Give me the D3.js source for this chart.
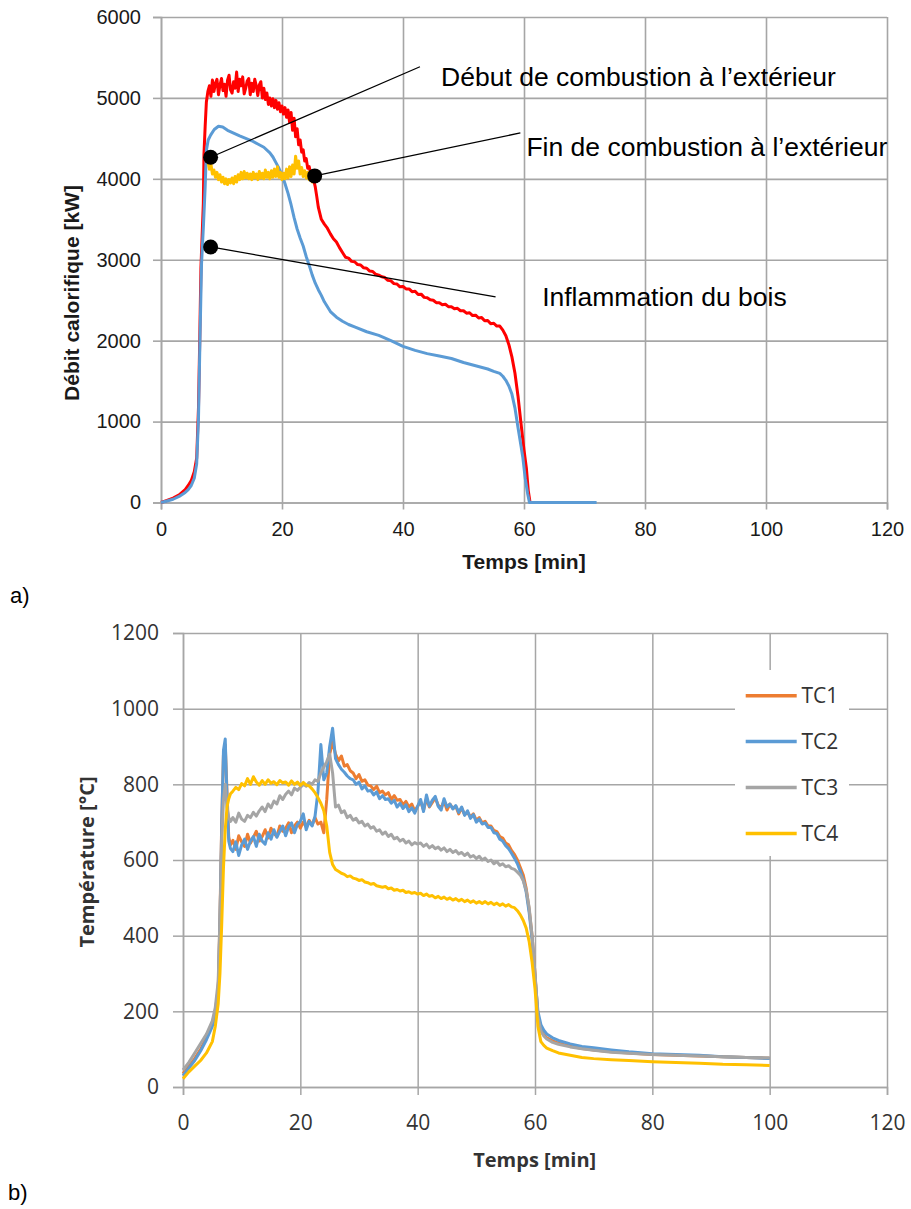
<!DOCTYPE html>
<html>
<head>
<meta charset="utf-8">
<script src="https://cdn.jsdelivr.net/npm/d3@7"></script>
<style>
  body { margin: 0; background: #fff; }
  svg { display: block; }
</style>
</head>
<body>
<svg id="fig" width="911" height="1209"></svg>
<script>
// ---------- Panel a: heat release rate (kW) vs time (min) ----------
const hrrTicksX = [0, 20, 40, 60, 80, 100, 120];
const hrrTicksY = [0, 1000, 2000, 3000, 4000, 5000, 6000];

// total heat release rate (red)
const hrrTotal = [[0,0],[1,25],[2,55],[3,95],[4,160],[4.5,210],[5,270],[5.5,380],[5.9,550],[6.2,1180],[6.4,2000],[6.6,2900],[6.8,3300],[7.0,3700],[7.1,4300],[7.3,4650],[7.5,4950],[7.75,5080],
  [8,5150],[8.25,5020],[8.5,5220],[8.75,5080],[9,5180],[9.25,5230],[9.5,5040],[9.75,5160],[10,5240],[10.25,5090],[10.5,5170],[10.75,5020],[11,5220],[11.25,5280],[11.5,5100],[11.75,5060],[12,5200],[12.25,5120],[12.5,5320],[12.75,5080],[13,5230],[13.25,5150],[13.5,5260],[13.75,5050],[14,5120],[14.25,5210],[14.5,5240],[14.75,5040],[15,5180],[15.25,5080],[15.5,5230],[15.75,5150],[16,5030],[16.25,5160],[16.5,5200],[16.75,5000],[17,5120],
  [17.25,4980],[17.5,5060],[17.75,4920],[18,5000],[18.25,4900],[18.5,4990],[18.75,4880],[19,4970],[19.25,4860],[19.5,4940],[19.75,4830],[20,4900],[20.25,4800],[20.5,4880],[20.75,4760],[21,4850],[21.25,4700],[21.5,4820],[21.75,4600],[22,4750],[22.25,4520],[22.5,4620],[22.75,4420],[23,4480],[23.25,4330],[23.5,4360],[23.75,4220],[24,4250],[24.25,4130],[24.5,4150],[24.75,4060],[25,4050],[25.25,3980],[25.5,3900],[25.75,3780],
  [26,3650],[26.5,3500],[27,3440],[27.5,3390],[28,3320],[28.5,3260],[29,3220],[29.5,3150],[30,3090],[30.5,3030],[31,3020],[31.5,2980],[32,2975],[32.5,2940],[33,2935],[33.5,2900],[34,2895],[34.5,2860],[35,2855],[35.5,2820],[36,2810],[36.5,2790],[37,2780],[37.5,2745],[38,2740],[38.5,2705],[39,2700],[39.5,2665],[40,2670],[40.5,2640],[41,2640],[41.5,2605],[42,2610],[42.5,2570],[43,2575],[43.5,2535],[44,2530],[44.5,2505],[45,2500],[45.5,2470],[46,2470],[46.5,2445],[47,2450],[47.5,2420],[48,2420],[48.5,2395],[49,2400],[49.5,2370],[50,2370],[50.5,2340],[51,2345],[51.5,2310],[52,2315],[52.5,2280],[53,2285],[53.5,2245],[54,2250],[54.5,2210],[55,2215],[55.5,2180],[56,2180],
  [56.5,2130],[57,2060],[57.5,1950],[58,1800],[58.5,1600],[59,1320],[59.5,980],[60,650],[60.4,420],[60.7,150],[61,0]];

// heat release rate inside the compartment (blue)
const hrrInside = [[0,0],[1,18],[2,40],[3,75],[4,125],[4.5,160],[5,210],[5.5,300],[5.9,480],[6.2,1050],[6.4,1850],[6.7,2950],[7.0,3400],[7.3,3900],[7.5,4350],[7.8,4480],[8.2,4540],[8.8,4610],[9.5,4650],[10.2,4640],[11,4600],[12,4565],[13,4530],[14,4500],[15,4470],[16,4430],[17,4390],[18,4320],[18.5,4270],[19,4200],[19.5,4130],[20,4050],[20.5,3940],[21,3820],[21.5,3680],[22,3520],[22.5,3380],[23,3270],[23.5,3170],[24,3040],[24.5,2930],[25,2810],[25.5,2710],[26,2630],[26.5,2560],[27,2480],[28,2360],[29,2290],[30,2240],[31,2200],[32,2170],[34,2110],[36,2065],[38,2000],[40,1930],[42,1880],[44,1840],[46,1810],[48,1780],[50,1730],[52,1690],[54,1650],[55,1620],[56,1595],[56.5,1560],[57,1510],[57.5,1440],[58,1340],[58.5,1170],[59,930],[59.5,700],[59.8,560],[60.2,300],[60.6,110],[60.9,0],[66,0],[72,0]];

// plateau during external combustion (yellow)
const hrrPlateau = [[7.8,4200],[8,4120],[8.25,4180],[8.5,4060],[8.75,4110],[9,4020],[9.25,4080],[9.5,3990],[9.75,4050],[10,3960],[10.25,4020],[10.5,3940],[10.75,4000],[11,3930],[11.25,3990],[11.5,3950],[11.75,4010],[12,3940],[12.25,4030],[12.5,3960],[12.75,4050],[13,3990],[13.25,4080],[13.5,4000],[13.75,4090],[14,4010],[14.25,4070],[14.5,4000],[14.75,4060],[15,3990],[15.25,4080],[15.5,4010],[15.75,4060],[16,3990],[16.25,4090],[16.5,4010],[16.75,4070],[17,4000],[17.25,4110],[17.5,4020],[17.75,4080],[18,4000],[18.25,4100],[18.5,4020],[18.75,4120],[19,4030],[19.25,4150],[19.5,4020],[19.75,4080],[20,3990],[20.25,4070],[20.5,4000],[20.75,4120],[21,4010],[21.25,4150],[21.5,4030],[21.75,4170],[22,4060],[22.25,4280],[22.5,4130],[22.75,4220],[23,4060],[23.25,4140],[23.5,4030],[23.75,4100],[24,4010],[24.25,4080],[24.5,3990],[24.75,4030],[25,3960],[25.2,4000]];

// annotations: point on curve, end of leader line, label anchor (left, middle)
const hrrNotes = [
  { text: "Début de combustion à l’extérieur", point: [8.2, 4267], lineEnd: [42.8, 5385], label: [46.3, 5260] },
  { text: "Fin de combustion à l’extérieur",   point: [25.4, 4036], lineEnd: [59.4, 4567], label: [60.4, 4394] },
  { text: "Inflammation du bois",              point: [8.2, 3158], lineEnd: [55.3, 2540], label: [63.0, 2540] }
];

// ---------- Panel b: gas temperature (°C) vs time (min) ----------
const tempTicksX = [0, 20, 40, 60, 80, 100, 120];
const tempTicksY = [0, 200, 400, 600, 800, 1000, 1200];
const tcNames = ["TC1", "TC2", "TC3", "TC4"];
const tcMinutes = [0,1,2,3,4,5,5.5,6,6.3,6.6,6.9,7.2,7.5,7.8,8.1,
  8.5,9,9.5,10,10.5,11,11.5,12,12.5,13,13.5,14,14.5,15,15.5,16,16.5,17,17.5,18,18.5,19,19.5,20,
  20.5,21,21.5,22,22.5,23,23.5,24,24.5,25,25.5,26,
  26.5,27,27.5,28,28.5,29,29.5,30,30.5,31,31.5,32,32.5,33,33.5,34,34.5,35,35.5,36,36.5,37,37.5,38,38.5,39,39.5,40,
  40.5,41,41.5,42,42.5,43,43.5,44,44.5,45,45.5,46,46.5,47,47.5,48,48.5,49,49.5,50,
  50.5,51,51.5,52,52.5,53,53.5,54,54.5,55,55.5,56,56.5,57,57.5,58,58.5,59,59.5,60,
  60.5,61,61.5,62,63,64,66,68,70,73,76,80,84,88,92,96,100];
const tc1 = [35,55,75,100,130,170,200,260,450,700,880,905,780,660,640,
  652,628,664,648,636,668,645,660,676,650,662,680,658,684,670,662,690,676,684,698,672,690,700,684,
  700,688,705,692,712,695,700,672,760,880,912,880,
  862,875,848,852,836,830,815,826,808,812,798,796,786,795,778,782,772,778,760,770,758,760,746,755,740,748,730,742,
  755,732,762,740,752,764,745,738,756,732,748,736,742,722,738,720,726,714,722,705,
  712,698,702,690,690,678,675,662,658,645,640,625,615,600,580,560,525,470,400,300,
  190,150,138,130,122,116,108,102,98,93,90,86,84,82,80,78,76];
const tc2 = [30,50,70,95,125,160,190,250,430,690,890,920,760,650,630,
  622,648,612,640,655,628,650,662,636,668,650,642,672,655,680,660,676,690,664,688,698,672,694,702,
  722,680,702,690,715,780,905,812,830,900,948,868,
  852,840,832,822,815,812,800,806,788,796,782,784,772,780,762,770,760,762,750,758,740,750,736,746,728,738,724,742,
  760,728,772,742,758,768,742,732,762,740,748,735,744,726,740,718,730,710,720,700,
  708,695,698,686,686,672,670,655,650,638,630,618,605,590,570,548,515,462,390,290,
  200,165,150,140,130,123,114,107,104,98,93,88,86,84,80,78,75];
const tc3 = [45,65,90,115,140,175,210,280,450,650,760,800,740,712,702,
  712,700,724,708,702,718,712,726,716,730,740,728,748,738,756,748,770,760,774,782,772,790,784,792,
  800,795,805,800,812,808,830,845,860,880,830,740,
  745,725,730,712,718,705,710,698,702,690,695,684,688,676,680,668,674,662,668,656,660,650,655,645,650,640,646,642,
  645,636,642,632,638,630,634,626,632,622,628,620,625,616,620,612,618,608,612,604,
  610,600,605,596,600,590,596,586,590,582,585,578,575,568,560,545,520,475,400,300,
  185,148,135,127,118,113,106,101,97,92,89,86,84,82,80,78,77];
const tc4 = [22,40,55,70,90,120,160,220,300,430,580,680,740,762,775,
  782,792,786,802,796,815,800,820,806,798,810,800,812,803,807,799,810,804,806,798,809,800,806,797,
  805,798,796,788,778,765,750,730,690,620,588,575,
  570,565,562,556,558,552,550,546,548,542,540,536,538,532,530,528,530,524,526,520,522,518,520,514,516,512,514,510,
  512,506,510,504,506,500,504,498,502,496,500,494,498,492,496,490,494,488,492,486,
  490,485,490,484,488,482,486,480,484,478,482,476,474,466,455,440,420,385,330,260,
  160,120,110,103,96,90,84,78,75,72,70,67,65,63,60,59,57];
const tcColors = ["#ed7d31", "#5b9bd5", "#a5a5a5", "#ffc000"];

// ---------- drawing ----------
const svg = d3.select("#fig");
const GRID = "#a6a6a6";

function gridAndAxes(g, x, y, xt, yt, o) {
  const [y0, y1] = y.range();
  const [x0, x1] = x.range();
  // vertical grid
  g.append("g").attr("class", "grid")
    .attr("transform", `translate(0,${y0})`)
    .call(d3.axisBottom(x).tickValues(xt).tickSize(-(y0 - y1)).tickFormat(""))
    .call(s => s.select(".domain").remove())
    .call(s => s.selectAll("line").attr("stroke", GRID).attr("stroke-width", o.gridW));
  // horizontal grid
  g.append("g").attr("class", "grid")
    .attr("transform", `translate(${x0},0)`)
    .call(d3.axisLeft(y).tickValues(yt).tickSize(-(x1 - x0)).tickFormat(""))
    .call(s => s.select(".domain").remove())
    .call(s => s.selectAll("line").attr("stroke", GRID).attr("stroke-width", o.gridW));
  // x axis with labels
  g.append("g")
    .attr("transform", `translate(0,${y0})`)
    .call(d3.axisBottom(x).tickValues(xt).tickSize(o.xTick).tickPadding(o.xPad).tickFormat(d3.format("d")))
    .call(s => s.select(".domain").attr("stroke", GRID).attr("stroke-width", o.gridW))
    .call(s => s.selectAll("line").attr("stroke", GRID).attr("stroke-width", o.gridW))
    .call(s => s.selectAll("text").attr("font-family", o.font).attr("font-size", o.tickFs).attr("fill", o.tickColor));
  // y axis with labels
  g.append("g")
    .attr("transform", `translate(${x0},0)`)
    .call(d3.axisLeft(y).tickValues(yt).tickSize(o.yTick).tickPadding(o.yPad).tickFormat(d3.format("d")))
    .call(s => s.select(".domain").attr("stroke", GRID).attr("stroke-width", o.gridW))
    .call(s => s.selectAll("line").attr("stroke", GRID).attr("stroke-width", o.gridW))
    .call(s => s.selectAll("text").attr("font-family", o.font).attr("font-size", o.tickFs).attr("fill", o.tickColor));
}

// Panel a
const ax = d3.scaleLinear().domain([0, 120]).range([161, 887]);
const ay = d3.scaleLinear().domain([0, 6000]).range([502.5, 17]);
const gA = svg.append("g");
const FONT_A = "'Liberation Sans', Arial, sans-serif";
gridAndAxes(gA, ax, ay, hrrTicksX, hrrTicksY, {
  gridW: 1.6, xTick: 7, xPad: 12.5, yTick: 8, yPad: 12,
  font: FONT_A, tickFs: 20, tickColor: "#1a1a1a"
});
const lineA = d3.line().x(d => ax(d[0])).y(d => ay(d[1]));
[[hrrTotal, "#ff0000"], [hrrInside, "#5b9bd5"], [hrrPlateau, "#ffc000"]].forEach(([data, c]) => {
  gA.append("path").datum(data).attr("d", lineA)
    .attr("fill", "none").attr("stroke", c).attr("stroke-width", 3)
    .attr("stroke-linejoin", "round");
});
// annotations
hrrNotes.forEach(n => {
  gA.append("line")
    .attr("x1", ax(n.point[0])).attr("y1", ay(n.point[1]))
    .attr("x2", ax(n.lineEnd[0])).attr("y2", ay(n.lineEnd[1]))
    .attr("stroke", "#000").attr("stroke-width", 1.3);
  gA.append("circle").attr("cx", ax(n.point[0])).attr("cy", ay(n.point[1])).attr("r", 7.5).attr("fill", "#000");
  gA.append("text").attr("x", ax(n.label[0])).attr("y", ay(n.label[1])).attr("dy", "0.35em")
    .attr("font-family", FONT_A).attr("font-size", 26.5).attr("fill", "#000").text(n.text);
});
gA.append("text").attr("x", 524).attr("y", 562).attr("dy", "0.35em").attr("text-anchor", "middle")
  .attr("font-family", FONT_A).attr("font-weight", "bold").attr("font-size", 21).attr("fill", "#1a1a1a")
  .text("Temps [min]");
gA.append("text").attr("transform", "translate(72,293) rotate(-90)").attr("dy", "0.35em").attr("text-anchor", "middle")
  .attr("font-family", FONT_A).attr("font-weight", "bold").attr("font-size", 21).attr("fill", "#1a1a1a")
  .text("Débit calorifique [kW]");
svg.append("text").attr("x", 10).attr("y", 595).attr("dy", "0.35em")
  .attr("font-family", FONT_A).attr("font-size", 22).attr("fill", "#000").text("a)");

// Panel b
const bx = d3.scaleLinear().domain([0, 120]).range([183, 887]);
const by = d3.scaleLinear().domain([0, 1200]).range([1087, 633]);
const gB = svg.append("g");
const FONT_B = "'Open Sans', 'Noto Sans', sans-serif";
gridAndAxes(gB, bx, by, tempTicksX, tempTicksY, {
  gridW: 1.5, xTick: 8, xPad: 20.5, yTick: 10, yPad: 14,
  font: FONT_B, tickFs: 21, tickColor: "#333"
});
const lineB = d3.line().x(d => bx(d[0])).y(d => by(d[1]));
[tc1, tc2, tc3, tc4].forEach((vals, i) => {
  const pts = tcMinutes.map((t, k) => [t, vals[k]]);
  gB.append("path").datum(pts).attr("d", lineB)
    .attr("fill", "none").attr("stroke", tcColors[i]).attr("stroke-width", 3)
    .attr("stroke-linejoin", "round");
});
// legend
const leg = gB.append("g");
leg.append("rect").attr("x", 735).attr("y", 670).attr("width", 114).attr("height", 186).attr("fill", "#fff");
tcNames.forEach((name, i) => {
  const yy = 695.7 + i * 45.9;
  leg.append("line").attr("x1", 745.7).attr("x2", 796.7).attr("y1", yy).attr("y2", yy)
    .attr("stroke", tcColors[i]).attr("stroke-width", 3.5);
  leg.append("text").attr("x", 801.5).attr("y", yy).attr("dy", "0.36em")
    .attr("font-family", FONT_B).attr("font-size", 21).attr("fill", "#333").text(name);
});
gB.append("text").attr("x", 534.7).attr("y", 1160).attr("dy", "0.35em").attr("text-anchor", "middle")
  .attr("font-family", FONT_B).attr("font-weight", "bold").attr("font-size", 20).attr("fill", "#333")
  .text("Temps [min]");
gB.append("text").attr("transform", "translate(87,862) rotate(-90)").attr("dy", "0.35em").attr("text-anchor", "middle")
  .attr("font-family", FONT_B).attr("font-weight", "bold").attr("font-size", 20).attr("fill", "#333")
  .text("Température [°C]");
svg.append("text").attr("x", 8).attr("y", 1192).attr("dy", "0.35em")
  .attr("font-family", FONT_A).attr("font-size", 22).attr("fill", "#000").text("b)");
</script>
</body>
</html>
